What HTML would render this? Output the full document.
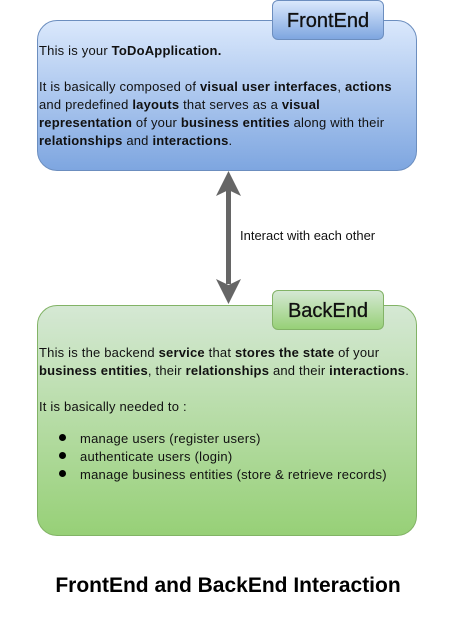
<!DOCTYPE html>
<html><head><meta charset="utf-8"><style>
body{margin:0;width:456px;height:621px;background:#fff;position:relative;font-family:"Liberation Sans",sans-serif;overflow:hidden}
.box{position:absolute;left:37px;width:380px;border-radius:20px;box-sizing:border-box}
.fe{top:20px;height:151px;background:linear-gradient(#dae8fc,#7ea6e0);border:1px solid #6c8ebf}
.be{top:305px;height:231px;background:linear-gradient(#d5e8d4,#97d077);border:1px solid #82b366}
.tab{position:absolute;left:272px;width:112px;height:40px;border-radius:6px;box-sizing:border-box;font-size:20px;text-align:center;line-height:40px;color:#111;-webkit-text-stroke:0.3px #111}
.tfe{top:0;background:linear-gradient(#dae8fc,#7ea6e0);border:1px solid #6c8ebf}
.tbe{top:290px;background:linear-gradient(#d5e8d4,#97d077);border:1px solid #82b366}
.l{position:absolute;left:39px;font-size:13px;letter-spacing:0.2px;white-space:nowrap;color:#111;line-height:14px}
.b{position:absolute;left:80px;font-size:13px;letter-spacing:0.25px;white-space:nowrap;color:#111;line-height:14px}
.dot{position:absolute;left:59px;width:7px;height:7px;border-radius:50%;background:#000}
</style></head><body>
<div class="box fe"></div><div class="tab tfe">FrontEnd</div>
<div class="l" style="top:44px">This is your <b>ToDoApplication.</b></div>
<div class="l" style="top:80px">It is basically composed of <b>visual user interfaces</b>, <b>actions</b></div>
<div class="l" style="top:98px">and predefined <b>layouts</b> that serves as a <b>visual</b></div>
<div class="l" style="top:116px"><b>representation</b> of your <b>business entities</b> along with their</div>
<div class="l" style="top:134px"><b>relationships</b> and <b>interactions</b>.</div>
<svg style="position:absolute;left:0;top:0" width="456" height="621">
<rect x="226" y="190" width="5" height="94" fill="#666"/>
<polygon points="228.5,171 216,196 228.5,190 241,196" fill="#666"/>
<polygon points="228.5,304 216,279 228.5,285 241,279" fill="#666"/>
</svg>
<div style="position:absolute;left:240px;top:228px;font-size:13px;color:#111">Interact with each other</div>
<div class="box be"></div><div class="tab tbe">BackEnd</div>
<div class="l" style="top:346px">This is the backend <b>service</b> that <b>stores the state</b> of your</div>
<div class="l" style="top:364px"><b>business entities</b>, their <b>relationships</b> and their <b>interactions</b>.</div>
<div class="l" style="top:400px">It is basically needed to :</div>
<div class="dot" style="top:434px"></div><div class="b" style="top:432px">manage users (register users)</div>
<div class="dot" style="top:452px"></div><div class="b" style="top:450px">authenticate users (login)</div>
<div class="dot" style="top:470px"></div><div class="b" style="top:468px">manage business entities (store &amp; retrieve records)</div>
<div style="position:absolute;left:0;width:456px;top:574px;text-align:center;font-size:21px;font-weight:bold;color:#000">FrontEnd and BackEnd Interaction</div>
</body></html>
